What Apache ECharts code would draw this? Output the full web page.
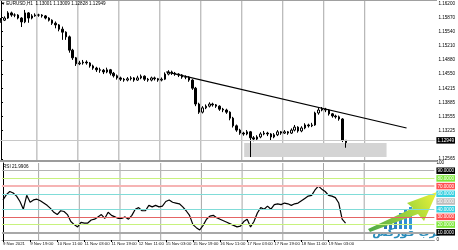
<!DOCTYPE html>
<html><head><meta charset="utf-8">
<script src="https://cdn.jsdelivr.net/npm/echarts@6/dist/echarts.min.js"></script>
<style>html,body{margin:0;padding:0;background:#fff}#c{width:458px;height:250px}</style>
</head><body><div id="c"></div>
<script>
const symbolTitle = 'EURUSD,H1  1.13001 1.13009 1.12828 1.12949';
const rsiTitle = 'RSI 21.9906';
const timeLabels = ['9 Nov 2021','9 Nov 19:00','10 Nov 11:00','11 Nov 03:00','11 Nov 19:00','12 Nov 11:00','15 Nov 03:00','15 Nov 19:00','16 Nov 11:00','17 Nov 03:00','17 Nov 19:00','18 Nov 11:00','19 Nov 03:00'];
const timeLabelHours = [0,16,32,48,64,80,96,112,128,144,160,176,192];
const gridHours = [21,45,69,93,117,141,165,189,213];
const priceTicks = [1.16200,1.15870,1.15540,1.15210,1.14880,1.14550,1.14215,1.13885,1.13555,1.13225,1.12565];
const rsiTicks = [0,10,20,30,40,50,60,70,80,90,100];
const lastPrice = 1.12949;
const trendLine = [[96.8,1.1460],[237.5,1.1329]];
const supportZone = [[142.4,1.12939],[225.8,1.12611]];

const open = [1.1578,1.1581,1.1586,1.1598,1.1593,1.1593,1.1586,1.1577,1.1598,1.1586,
1.1591,1.1593,1.1593,1.1591,1.1586,1.1581,1.1574,1.1570,1.1560,1.1553,
1.1542,1.1511,1.1493,1.1479,1.1481,1.1483,1.1481,1.1474,1.1469,1.1465,
1.1464,1.1460,1.1465,1.1457,1.1451,1.1446,1.1443,1.1441,1.1444,1.1446,
1.1441,1.1446,1.1450,1.1443,1.1441,1.1446,1.1444,1.1441,1.1443,1.1455,
1.1460,1.1457,1.1455,1.1453,1.1448,1.1448,1.1441,1.1422,1.1385,1.1366,
1.1376,1.1380,1.1385,1.1383,1.1380,1.1373,1.1371,1.1366,1.1352,1.1334,
1.1324,1.1317,1.1315,1.1320,1.1306,1.1303,1.1308,1.1315,1.1317,1.1315,
1.1308,1.1313,1.1320,1.1317,1.1320,1.1317,1.1324,1.1331,1.1322,1.1329,
1.1336,1.1334,1.1336,1.1364,1.1371,1.1373,1.1371,1.1362,1.1357,1.1355,
1.1350,1.13001];
const close = [1.1581,1.1586,1.1598,1.1593,1.1593,1.1586,1.1577,1.1598,1.1586,1.1591,
1.1593,1.1593,1.1591,1.1586,1.1581,1.1574,1.1570,1.1560,1.1553,1.1542,
1.1511,1.1493,1.1479,1.1481,1.1483,1.1481,1.1474,1.1469,1.1465,1.1464,
1.1460,1.1465,1.1457,1.1451,1.1446,1.1443,1.1441,1.1444,1.1446,1.1441,
1.1446,1.1450,1.1443,1.1441,1.1446,1.1444,1.1441,1.1443,1.1455,1.1460,
1.1457,1.1455,1.1453,1.1448,1.1448,1.1441,1.1422,1.1385,1.1366,1.1376,
1.1380,1.1385,1.1383,1.1380,1.1373,1.1371,1.1366,1.1352,1.1334,1.1324,
1.1317,1.1315,1.1320,1.1306,1.1303,1.1308,1.1315,1.1317,1.1315,1.1308,
1.1313,1.1320,1.1317,1.1320,1.1317,1.1324,1.1331,1.1322,1.1329,1.1336,
1.1334,1.1336,1.1364,1.1371,1.1373,1.1371,1.1362,1.1357,1.1355,1.1350,
1.13001,1.12949];
const low = [1.1575,1.1579,1.1584,1.1589,1.1588,1.1583,1.1565,1.1574,1.1575,1.1583,
1.1589,1.1589,1.1587,1.1583,1.1578,1.1570,1.1562,1.1555,1.1535,1.1535,
1.1505,1.1488,1.1474,1.1476,1.1477,1.1477,1.1470,1.1465,1.1460,1.1458,
1.1455,1.1457,1.1452,1.1447,1.1442,1.1439,1.1437,1.1438,1.1440,1.1437,
1.1439,1.1443,1.1439,1.1437,1.1438,1.1440,1.1437,1.1438,1.1441,1.1452,
1.1453,1.1451,1.1448,1.1444,1.1443,1.1437,1.1418,1.1380,1.1362,1.1363,
1.1373,1.1377,1.1379,1.1376,1.1369,1.1366,1.1362,1.1347,1.1330,1.1320,
1.1313,1.1311,1.1312,1.1261,1.1298,1.1300,1.1305,1.1312,1.1310,1.1300,
1.1305,1.1310,1.1313,1.1315,1.1313,1.1315,1.1321,1.1318,1.1319,1.1326,
1.1330,1.1331,1.1334,1.1360,1.1368,1.1366,1.1358,1.1353,1.1351,1.1346,
1.1296,1.12828];
const high = [1.1586,1.1590,1.1602,1.1601,1.1597,1.1595,1.1588,1.1605,1.1600,1.1595,
1.1597,1.1596,1.1595,1.1593,1.1588,1.1583,1.1578,1.1572,1.1566,1.1555,
1.1545,1.1514,1.1495,1.1486,1.1488,1.1487,1.1483,1.1477,1.1472,1.1470,
1.1467,1.1470,1.1467,1.1460,1.1454,1.1449,1.1446,1.1448,1.1450,1.1448,
1.1451,1.1454,1.1452,1.1446,1.1449,1.1449,1.1446,1.1447,1.1459,1.1464,
1.1463,1.1460,1.1457,1.1455,1.1452,1.1450,1.1443,1.1425,1.1388,1.1380,
1.1384,1.1389,1.1388,1.1385,1.1382,1.1376,1.1374,1.1368,1.1355,1.1337,
1.1327,1.1320,1.1324,1.1322,1.1310,1.1312,1.1319,1.1322,1.1320,1.1317,
1.1317,1.1324,1.1322,1.1324,1.1322,1.1328,1.1336,1.1333,1.1333,1.1340,
1.1339,1.1341,1.1367,1.1376,1.1378,1.1376,1.1373,1.1364,1.1360,1.1358,
1.1352,1.13009];
const rsi = [52,59,63,61,57,50,40,58,49,52,
53,51,48,45,41,36,33,38,37,33,
24,20,17,23,22,22,26,27,30,33,
28,36,32,30,28,28,30,27,32,40,
42,38,38,45,43,45,43,44,50,52,
49,48,47,43,38,32,20,16,13,19,
27,31,32,29,27,25,23,21,19,17,
18,24,27,17,24,35,42,40,44,40,
46,47,46,48,47,45,47,48,51,54,
57,58,65,70,66,63,58,57,55,48,
27,21.9906];

const font = 'Liberation Sans';
const fs = 4.6;
const fsX = 4.3;
const hours = open.map((_, i) => i * 2);   // bar time index (2-hour bars)
const candleRows = hours.map((h, i) => [h, open[i], close[i], low[i], high[i]]);
const rsiRows = hours.map((h, i) => [h, rsi[i]]);
const xMin = -0.6, xMax = 254.4;
const pMin = 1.12541, pMax = 1.16282;

const levelStyle = {
  90: {color:'#b4b4b4', width:1},
  80: {color:'#c8f27e', width:1},
  70: {color:'#f6b4b4', width:2},
  60: {color:'#80dcd8', width:1},
  40: {color:'#80dcd8', width:1},
  30: {color:'#e46464', width:1},
  20: {color:'#c8f27e', width:1},
  10: {color:'#a8a8a8', width:2}
};
const boxStyle = (bg) => ({backgroundColor:bg, color:'#fff', fontSize:fs, fontFamily:font, padding:[1,1,0.5,1], lineHeight:6});
const rsiRich = {
  p:{color:'#000', fontSize:fs, fontFamily:font},
  k:boxStyle('#000'), g:boxStyle('#7ee83a'), r:boxStyle('#ff5050'), c:boxStyle('#38d0e0'), s:boxStyle('#bcbcbc')
};
const rsiKey = {100:'p',90:'k',80:'g',70:'r',60:'c',50:'s',40:'c',30:'r',20:'g',10:'k',0:'p'};

// vertical time grid: bar series of full-height thin columns, positioned by the x scale
const gridMain = gridHours.map(h => [h, pMax]);
const gridRsi = gridHours.map(h => [h, 100]);

const chart = echarts.init(document.getElementById('c'), null, {renderer:'canvas'});
chart.setOption({
  animation:false,
  backgroundColor:'#fff',
  grid:[{left:0, top:0, width:437, height:160},{left:0, top:163, width:437, height:77}],
  dataset:[{source:candleRows}],
  xAxis:[
    {type:'value', gridIndex:0, min:xMin, max:xMax, axisLine:{show:false}, axisTick:{show:false}, axisLabel:{show:false}, splitLine:{show:false}},
    {type:'value', gridIndex:1, min:xMin, max:xMax,
     axisLine:{show:true, lineStyle:{color:'#9a9a9a', width:1}},
     axisTick:{show:true, customValues:timeLabelHours, length:2, lineStyle:{color:'#000'}},
     axisLabel:{show:true, customValues:timeLabelHours, formatter:v => timeLabels[timeLabelHours.indexOf(v)], align:'left', fontSize:fsX, fontFamily:font, color:'#111', margin:2},
     splitLine:{show:false}}
  ],
  yAxis:[
    {type:'value', gridIndex:0, position:'right', min:pMin, max:pMax,
     axisLine:{show:true, lineStyle:{color:'#000'}},
     axisTick:{show:true, customValues:priceTicks, length:2, lineStyle:{color:'#000'}},
     axisLabel:{customValues:priceTicks, formatter:v => v.toFixed(5), fontSize:fs, fontFamily:font, color:'#000', margin:3},
     splitLine:{show:false}},
    {type:'value', gridIndex:1, position:'right', min:0, max:100,
     axisLine:{show:true, lineStyle:{color:'#000'}},
     axisTick:{show:false},
     axisLabel:{customValues:rsiTicks, formatter:v => v===100||v===0 ? `{p|${v}}` : `{${rsiKey[v]}|${v.toFixed(4)}}`, rich:rsiRich, margin:2},
     splitLine:{show:false}}
  ],
  series: [
    {type:'bar', xAxisIndex:0, yAxisIndex:0, data:gridMain, barWidth:1, barMinHeight:0, silent:true, z:0,
     itemStyle:{color:'#a6a6a6', decal:null}},
    {type:'bar', xAxisIndex:1, yAxisIndex:1, data:gridRsi, barWidth:1, silent:true, z:0,
     itemStyle:{color:'#a6a6a6'}},
    {type:'line', xAxisIndex:0, yAxisIndex:0, data:[[supportZone[0][0], supportZone[0][1]]], symbol:'none', lineStyle:{opacity:0}, silent:true, z:1,
     markArea:{silent:true, itemStyle:{color:'#d4d4d4'}, data:[[{xAxis:supportZone[0][0], yAxis:supportZone[0][1]},{xAxis:supportZone[1][0], yAxis:supportZone[1][1]}]]}},
    {type:'candlestick', xAxisIndex:0, yAxisIndex:0, datasetIndex:0, encode:{x:0, y:[1,2,3,4]}, barWidth:2, z:3,
     itemStyle:{color:'#ffffff', color0:'#000000', borderColor:'#000000', borderColor0:'#000000', borderWidth:1},
     markLine:{silent:true, symbol:['none','none'], lineStyle:{color:'#c8c8c8', type:'solid', width:1},
       label:{show:true, position:'end', distance:1, formatter:lastPrice.toFixed(5), backgroundColor:'#000', color:'#fff', fontSize:fs, fontFamily:font, padding:[1,1,0.5,1]},
       data:[{yAxis:lastPrice}]}},
    {type:'line', xAxisIndex:0, yAxisIndex:0, data:trendLine, symbol:'none', lineStyle:{color:'#000', width:1.2}, z:4, silent:true},
    {type:'line', xAxisIndex:1, yAxisIndex:1, data:rsiRows, symbol:'none', lineStyle:{color:'#000', width:1.2}, z:3, silent:true,
     markLine:{silent:true, symbol:['none','none'], label:{show:false},
       data: Object.keys(levelStyle).map(k => ({yAxis:+k, lineStyle:{color:levelStyle[k].color, width:levelStyle[k].width, type:'solid'}}))}}
  ],
  graphic:[
    {type:'line', shape:{x1:0, y1:0.5, x2:437, y2:0.5}, style:{stroke:'#a0a0a0', lineWidth:1}, z:10},
    {type:'rect', shape:{x:0, y:160, width:437, height:2}, style:{fill:'#9c9c9c'}, z:10},
    {type:'text', x:2, y:1.5, style:{text:'\u25BE ' + symbolTitle, fontSize:fs, fontFamily:font, fill:'#000'}, z:10},
    {type:'text', x:3, y:164, style:{text:rsiTitle, fontSize:fs, fontFamily:font, fill:'#000'}, z:10},
    {type:'group', z:20, children:[
      {type:'rect', shape:{x:384, y:224, width:3, height:5}, style:{fill:'#2a72b8'}},
      {type:'rect', shape:{x:389, y:221, width:3, height:8}, style:{fill:'#2a78be'}},
      {type:'rect', shape:{x:394, y:217, width:3, height:12}, style:{fill:'#2c80c6'}},
      {type:'rect', shape:{x:399, y:213, width:3, height:16}, style:{fill:'#2e88cc'}},
      {type:'rect', shape:{x:404, y:210, width:3, height:19}, style:{fill:'#3190d2'}},
      {type:'rect', shape:{x:409, y:207, width:3, height:22}, style:{fill:'#3498d8'}},
      {type:'polygon', shape:{points:[[368,229],[413,208],[407,203],[437,192],[424,221],[418,214],[370,232]]},
       style:{fill:new echarts.graphic.LinearGradient(0,1,1,0,[{offset:0,color:'#4aa84a'},{offset:0.6,color:'#a6d83a'},{offset:1,color:'#eef23a'}])}},
      {type:'text', x:408, y:233, style:{text:'عرب فوركس', fontSize:11, fontWeight:'bold', fontFamily:'DejaVu Sans', fill:'#2a8cba', align:'center', verticalAlign:'middle'}}
    ]}
  ]
});
</script></body></html>
